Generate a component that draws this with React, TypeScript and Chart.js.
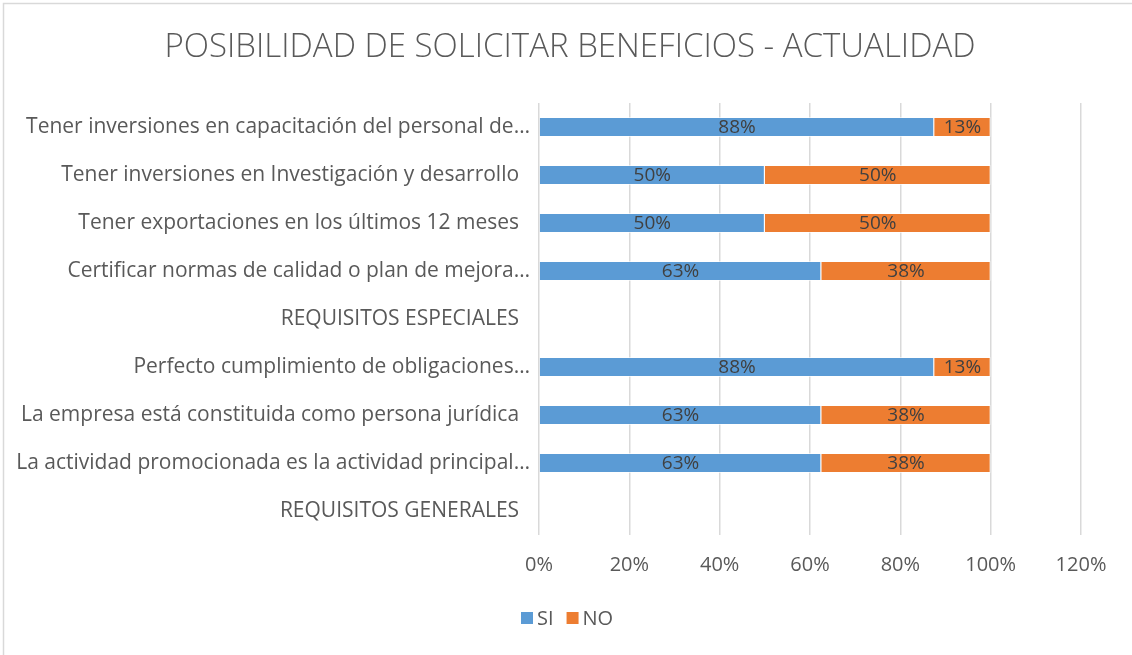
import React, { useEffect, useRef } from "react";
import { Chart, registerables } from "chart.js";

Chart.register(...registerables);

const chartTitle = "POSIBILIDAD DE SOLICITAR BENEFICIOS - ACTUALIDAD";
const categories = [
  "Tener inversiones en capacitación del personal de…",
  "Tener inversiones en Investigación y desarrollo  ",
  "Tener exportaciones en los últimos 12 meses  ",
  "Certificar normas de calidad o plan de mejora…",
  "REQUISITOS ESPECIALES  ",
  "Perfecto cumplimiento de obligaciones…",
  "La empresa está constituida como persona jurídica  ",
  "La actividad promocionada es la actividad principal…",
  "REQUISITOS GENERALES  ",
];
const siValues = [87.5, 50, 50, 62.5, 0, 87.5, 62.5, 62.5, 0];
const noValues = [12.5, 50, 50, 37.5, 0, 12.5, 37.5, 37.5, 0];
const seriesNames = ["SI", "NO"];
const seriesColors = ["#5B9BD5", "#ED7D31"];
const xTicks = [0, 20, 40, 60, 80, 100, 120];

const FONT = "'Open Sans', 'DejaVu Sans', sans-serif";

const decorPlugin = {
  id: "decor",
  afterDraw(chart: any) {
    const ctx = chart.ctx;
    ctx.save();
    // frame (top and left edges visible)
    ctx.strokeStyle = "#d9d9d9";
    ctx.lineWidth = 1.5;
    ctx.beginPath();
    ctx.moveTo(3.5, chart.height);
    ctx.lineTo(3.5, 3.5);
    ctx.lineTo(chart.width, 3.5);
    ctx.stroke();
    // title
    ctx.fillStyle = "#595959";
    ctx.font = `300 33px ${FONT}`;
    ctx.textAlign = "center";
    ctx.textBaseline = "middle";
    ctx.fillText(chartTitle, 570, 48);
    // data labels
    ctx.font = `19px ${FONT}`;
    ctx.fillStyle = "#404040";
    chart.data.datasets.forEach((ds: any, di: number) => {
      const meta = chart.getDatasetMeta(di);
      meta.data.forEach((bar: any, i: number) => {
        const v = ds.data[i];
        if (!v) return;
        const cx = (bar.x + bar.base) / 2;
        ctx.fillText(Math.round(v) + "%", cx, bar.y + 1);
      });
    });
    // legend
    ctx.font = `20px ${FONT}`;
    ctx.textAlign = "left";
    let x = 521;
    const y = 618;
    seriesNames.forEach((name, i) => {
      ctx.fillStyle = seriesColors[i];
      ctx.fillRect(x, y - 6, 12, 12);
      x += 16;
      ctx.fillStyle = "#595959";
      ctx.fillText(name, x, y + 1);
      x += ctx.measureText(name).width + 13;
    });
    ctx.restore();
  },
};

export default function App() {
  const canvasRef = useRef<HTMLCanvasElement | null>(null);

  useEffect(() => {
    if (!canvasRef.current) return;
    const chart = new Chart(canvasRef.current, {
      type: "bar",
      data: {
        labels: categories,
        datasets: [
          {
            label: seriesNames[0],
            data: siValues,
            backgroundColor: seriesColors[0],
            borderColor: "rgba(255,255,255,0.6)",
            borderWidth: 1,
            categoryPercentage: 0.42,
            barPercentage: 1,
          },
          {
            label: seriesNames[1],
            data: noValues,
            backgroundColor: seriesColors[1],
            borderColor: "rgba(255,255,255,0.6)",
            borderWidth: 1,
            categoryPercentage: 0.42,
            barPercentage: 1,
          },
        ],
      },
      plugins: [decorPlugin],
      options: {
        indexAxis: "y",
        responsive: false,
        animation: false,
        layout: { padding: { left: 0, right: 51, top: 103, bottom: 56 } },
        plugins: {
          legend: { display: false },
          title: { display: false },
          tooltip: { enabled: false },
        },
        scales: {
          x: {
            stacked: true,
            min: 0,
            max: 120,
            afterBuildTicks: (scale: any) => {
              scale.ticks = xTicks.map((v) => ({ value: v }));
            },
            afterFit: (scale: any) => {
              scale.height = 64;
            },
            grid: { color: "#d9d9d9", lineWidth: 1.5, drawTicks: false },
            border: { display: false },
            ticks: {
              padding: 18,
              color: "#595959",
              font: { family: FONT, size: 20 },
              callback: (v: any) => v + "%",
            },
          },
          y: {
            stacked: true,
            afterFit: (scale: any) => {
              scale.width = 539;
            },
            grid: { display: false, drawTicks: false },
            border: { display: false },
            ticks: {
              padding: 9,
              color: "#595959",
              font: { family: FONT, size: 21 },
            },
          },
        },
      },
    });
    return () => chart.destroy();
  }, []);

  return (
    <div style={{ position: "fixed", left: 0, top: 0, width: 1132, height: 655, background: "#fff" }}>
      <canvas ref={canvasRef} width={1132} height={655} style={{ display: "block" }} />
    </div>
  );
}
